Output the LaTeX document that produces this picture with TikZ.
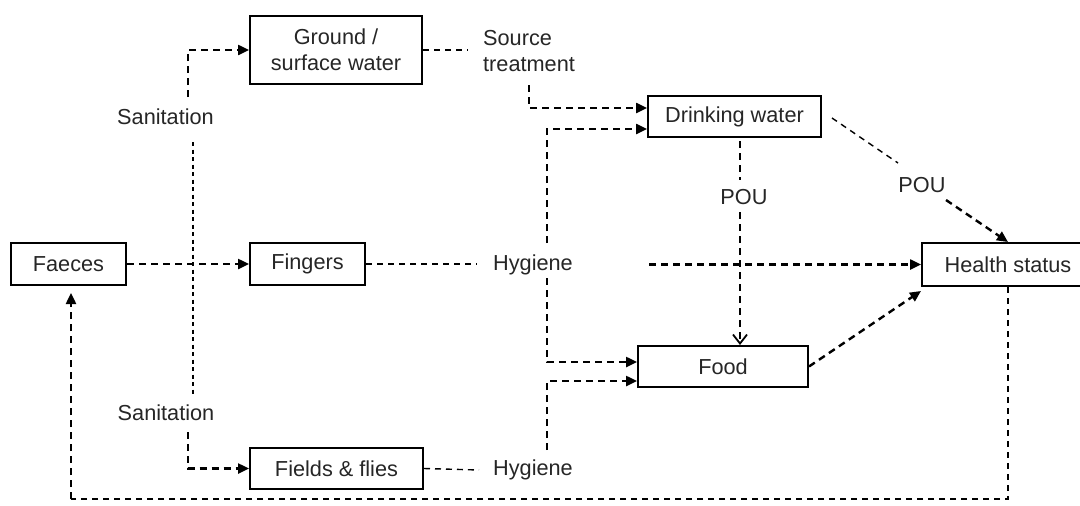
\documentclass[tikz,border=0pt]{standalone}
\usepackage{fontspec}
\setmainfont{Liberation Sans}
\usetikzlibrary{arrows.meta}
\newcommand\figfont{\fontsize{21.7}{26}\selectfont}
\begin{document}
\begin{tikzpicture}[x=1pt,y=-1pt,
  box/.style={draw,line width=2pt,inner sep=0pt,font=\figfont,text=black!85,align=center},
  lab/.style={inner sep=0pt,font=\figfont,text=black!85},
  thk/.style={line width=2.4pt,dash pattern=on 7pt off 5pt},
  thn/.style={line width=1.4pt,dash pattern=on 6pt off 5pt},
  dots/.style={line width=1.2pt,dash pattern=on 4pt off 3.5pt},
  arr/.style={-{Triangle[length=11pt,width=10pt]}},
  openarr/.style={-{Straight Barb[length=9pt,width=14pt,line width=1.8pt]}}
]
\useasboundingbox (0,0) rectangle (1080,506);
\fill[white] (0,0) rectangle (1080,506);

% boxes
\node[box,minimum width=172pt,minimum height=68pt] (ground) at (336,50) {Ground /\\surface water};
\node[box,minimum width=115pt,minimum height=42pt] (faeces) at (68.5,264) {Faeces};
\node[box,minimum width=115pt,minimum height=42pt] (fingers) at (307.5,264) {Fingers};
\node[box,minimum width=173pt,minimum height=41pt] (fields) at (336.5,468.5) {Fields \& flies};
\node[box,minimum width=173pt,minimum height=41pt] (drink) at (734.5,116.5) {Drinking water};
\node[box,minimum width=170pt,minimum height=41pt] (food) at (723,366.5) {Food};
\node[box,minimum width=172pt,minimum height=43pt] (health) at (1008,264.5) {Health status};

% labels
\node[lab,align=left,anchor=west] (source) at (483,51.5) {Source\\treatment};
\node[lab] (santop) at (165.5,117) {Sanitation};
\node[lab] (sanbot) at (166,413) {Sanitation};
\node[lab] (hygmid) at (533,265) {Hygiene};
\node[lab] (hygbot) at (533,470) {Hygiene};
\node[lab] (pouv) at (744,197) {POU};
\node[lab] (poud) at (922,185) {POU};

% coordinates for free ends
\coordinate (pv) at (740,0);
\coordinate (lc) at (71,499);

% sanitation
\draw[thk,arr] (188,97) |- (ground.west);
\draw[dots] (193,142) -- (193,395);
\draw[thk,arr] (188,432) |- (fields.west);

% faeces -> fingers
\draw[thk,arr] (faeces.east) -- (fingers.west);
\draw[thn] (fingers.east) -- (477,264);
\draw[thn] (fields.east) -- (479,470);
\draw[thn] (ground.east) -- (468,50);

% to drinking water
\draw[thk,arr] (529,85) |- ([yshift=8.5pt]drink.west);
\draw[thk,arr] (547,243) |- ([yshift=-12.5pt]drink.west);
% to food
\draw[thk,arr] (547,278) |- ([yshift=4.5pt]food.west);
\draw[thk,arr] (547,450) |- ([yshift=-14.5pt]food.west);
% hygiene -> health
\draw[thk,arr] (649,264.5) -- (health.west);

% POU vertical
\draw[thk] (drink.south -| pv) ++(0,3) -- (740,180);
\draw[thk,openarr] (740,212) -- (food.north -| pv);

% POU diagonal
\draw[thn] (832,118) -- (898,163);
\draw[thk,arr] (946,200) -- (health.north);

% food -> health
\draw[thk,arr] (food.east) -- ([yshift=-4pt]health.south west);

% loop back to faeces
\draw[thn,line width=1.6pt] (health.south) |- (lc);
\draw[thk,arr] (lc) -- ([xshift=2.5pt,yshift=-7pt]faeces.south);
\end{tikzpicture}
\end{document}
